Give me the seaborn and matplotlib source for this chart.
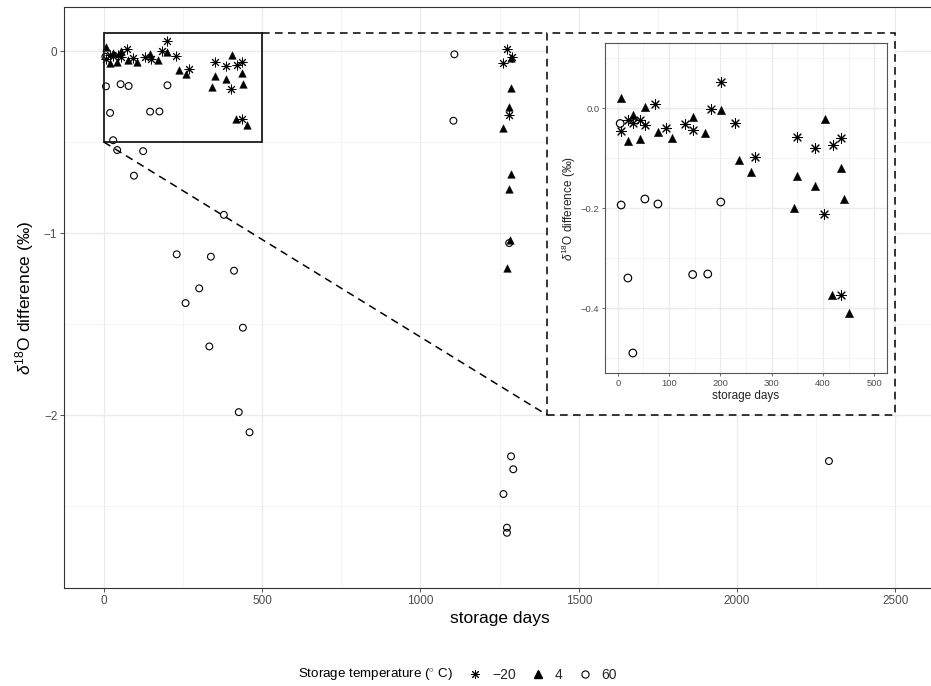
import matplotlib
matplotlib.use("Agg")
import matplotlib.pyplot as plt
import numpy as np
import pandas as pd
import seaborn as sns
from matplotlib.lines import Line2D
from matplotlib.patches import Rectangle

# ---------------- data ----------------
days_m20 = [5.9, 20.2, 28.7, 43.7, 53.5, 72.4, 93.2, 131, 147.3, 182.5, 200.8, 228.2,
            267.9, 349.4, 384.6, 402.9, 420.5, 436.1, 436.1, 1273, 1260, 1289, 1281]
diff_m20 = [-0.046, -0.023, -0.029, -0.023, -0.034, 0.009, -0.040, -0.031, -0.044, -0.001,
            0.053, -0.029, -0.097, -0.058, -0.080, -0.211, -0.074, -0.059, -0.373,
            0.009, -0.063, -0.035, -0.352]

days_p4 = [6.5, 19.6, 29, 43, 53.5, 77.6, 105.6, 146.7, 170.8, 200.8, 236.6, 259.5,
           342.9, 349.4, 385.3, 403.5, 435.5, 440.7, 417.9, 451.1,
           1286, 1285, 1281, 1262, 1285, 1280, 1284, 1274]
diff_p4 = [0.020, -0.066, -0.013, -0.062, 0.002, -0.048, -0.059, -0.017, -0.050, -0.003,
           -0.103, -0.127, -0.199, -0.136, -0.155, -0.021, -0.119, -0.182, -0.374, -0.409,
           -0.040, -0.205, -0.306, -0.425, -0.676, -0.760, -1.040, -1.190]

days_p60 = [4.6, 6.5, 19.6, 29.3, 52.8, 78.2, 146, 175.4, 200.8, 42, 124, 95,
            379, 230, 338, 411, 301, 258, 439, 333, 426, 460,
            1107, 1104, 1280, 1286, 1293, 1262, 1273, 1273, 2290]
diff_p60 = [-0.031, -0.194, -0.340, -0.490, -0.182, -0.192, -0.333, -0.332, -0.188,
            -0.544, -0.550, -0.685, -0.900, -1.117, -1.130, -1.207, -1.304, -1.385,
            -1.520, -1.623, -1.984, -2.095, -0.018, -0.383, -1.055, -2.227, -2.298,
            -2.434, -2.619, -2.647, -2.253]

temp_labels = ["\u221220", "4", "60"]

x_major = [0, 500, 1000, 1500, 2000, 2500]
x_minor = [250, 750, 1250, 1750, 2250]
y_major = [0, -1, -2]
y_minor = [-0.5, -1.5, -2.5]
y_ticklabels = ["0", "\u22121", "\u22122"]

ix_major = [0, 100, 200, 300, 400, 500]
ix_minor = [50, 150, 250, 350, 450]
iy_major = [0.0, -0.2, -0.4]
iy_minor = [0.1, -0.1, -0.3, -0.5]
iy_ticklabels = ["0.0", "\u22120.2", "\u22120.4"]

df = pd.concat([
    pd.DataFrame({"days": days_m20, "diff": diff_m20, "temp": temp_labels[0]}),
    pd.DataFrame({"days": days_p4, "diff": diff_p4, "temp": temp_labels[1]}),
    pd.DataFrame({"days": days_p60, "diff": diff_p60, "temp": temp_labels[2]}),
], ignore_index=True)

# ---------------- style ----------------
sns.set_theme(style="white")
plt.rcParams["font.family"] = ["Liberation Sans", "DejaVu Sans"]
plt.rcParams["mathtext.fontset"] = "custom"
plt.rcParams["mathtext.rm"] = "Liberation Sans"
plt.rcParams["mathtext.it"] = "Liberation Sans:italic"
plt.rcParams["mathtext.bf"] = "Liberation Sans:bold"

W, H = 931, 686
fig = plt.figure(figsize=(W / 100, H / 100), dpi=100)
fig.patch.set_facecolor("white")

ASTER = (8, 2, 0)
styles_main = {
    temp_labels[0]: dict(marker=ASTER, color="black", linewidth=0.7),
    temp_labels[1]: dict(marker="^", color="black", edgecolor="black", linewidth=0.3),
    temp_labels[2]: dict(marker="o", color="black", facecolor="none", edgecolor="black", linewidth=0.8),
}
styles_inset = {
    temp_labels[0]: dict(marker=ASTER, color="black", linewidth=0.75),
    temp_labels[1]: dict(marker="^", color="black", edgecolor="black", linewidth=0.3),
    temp_labels[2]: dict(marker="o", color="black", facecolor="none", edgecolor="black", linewidth=0.85),
}
sizes_main = {temp_labels[0]: 42, temp_labels[1]: 30, temp_labels[2]: 24}
sizes_inset = {temp_labels[0]: 50, temp_labels[1]: 36, temp_labels[2]: 30}

GRID_MAJ = "#EBEBEB"
GRID_MIN = "#F3F3F3"
TICKLAB = "#4D4D4D"
FRAME = "#333333"


def style_axes(a, xmaj, xmin, ymaj, ymin, ylabels, fs, frame_color, tick_len):
    a.set_xticks(xmaj)
    a.set_xticks(xmin, minor=True)
    a.set_yticks(ymaj)
    a.set_yticklabels(ylabels)
    a.set_yticks(ymin, minor=True)
    a.grid(which="major", color=GRID_MAJ, linewidth=1.0)
    a.grid(which="minor", color=GRID_MIN, linewidth=0.6)
    a.set_axisbelow(True)
    a.tick_params(which="major", length=tick_len, width=0.6, color=frame_color,
                  labelsize=fs, labelcolor=TICKLAB, pad=2)
    a.tick_params(which="minor", length=0)
    a.tick_params(bottom=True, left=True)
    for s in a.spines.values():
        s.set_color(frame_color)
        s.set_linewidth(0.8)


# ---------------- main axes ----------------
ax = fig.add_axes([64.3 / W, 1 - 588.3 / H, (935 - 64.3) / W, (588.3 - 7) / H])
for lvl in temp_labels:
    sub = df[df["temp"] == lvl]
    sns.scatterplot(data=sub, x="days", y="diff", s=sizes_main[lvl], ax=ax,
                    legend=False, zorder=3, **styles_main[lvl])
ax.set_xlim(-125, 2625)
ax.set_ylim(-2.952, 0.242)
style_axes(ax, x_major, x_minor, y_major, y_minor, y_ticklabels, 8.5, FRAME, 3)
ax.set_xlabel("storage days", fontsize=12.5, color="black", labelpad=3)
ax.set_ylabel(r"$\delta^{18}$O difference (‰)", fontsize=12.5, color="black", labelpad=6)

# zoom guides
dash = (0, (5, 3.5))
ax.add_patch(Rectangle((1400, -2), 1100, 2.1, facecolor="white", edgecolor="none", zorder=2.5))
ax.add_patch(Rectangle((1400, -2), 1100, 2.1, fill=False, edgecolor="black",
                       linewidth=1.1, linestyle=dash, zorder=4))
ax.add_patch(Rectangle((0, -0.5), 500, 0.6, fill=False, edgecolor="#1a1a1a",
                       linewidth=1.3, zorder=4))
ax.plot([500, 1400], [0.1, 0.1], color="black", lw=1.1, ls=dash, zorder=4)
ax.plot([0, 1400], [-0.5, -2], color="black", lw=1.1, ls=dash, zorder=4)

# ---------------- inset ----------------
axi = fig.add_axes([605 / W, 1 - 373 / H, (887 - 605) / W, (373 - 43) / H], zorder=5)
axi.set_facecolor("white")
for lvl in temp_labels:
    sub = df[df["temp"] == lvl]
    sns.scatterplot(data=sub, x="days", y="diff", s=sizes_inset[lvl], ax=axi,
                    legend=False, zorder=3, **styles_inset[lvl])
axi.set_xlim(-25, 525)
axi.set_ylim(-0.53, 0.13)
style_axes(axi, ix_major, ix_minor, iy_major, iy_minor, iy_ticklabels, 6.8, "#555555", 2)
axi.set_xlabel("storage days", fontsize=8.5, color="#222222", labelpad=1.5)
axi.set_ylabel(r"$\delta^{18}$O difference (‰)", fontsize=8.5, color="#222222", labelpad=2)

# ---------------- legend ----------------
fig.text(298 / W, 1 - 675 / H, r"Storage temperature $\mathit{(}^{\circ}$ C$\mathit{)}$",
         fontsize=9.6, va="center", ha="left", color="black")
handles = [
    Line2D([], [], marker=ASTER, ls="none", color="black", markersize=6.5, markeredgewidth=0.7),
    Line2D([], [], marker="^", ls="none", color="black", markersize=5.5),
    Line2D([], [], marker="o", ls="none", markerfacecolor="none", markeredgecolor="black",
           markersize=5.2, markeredgewidth=0.8),
]
fig.legend(handles, temp_labels, loc="center left", bbox_to_anchor=(467 / W, 1 - 675 / H),
           ncol=3, frameon=False, fontsize=10, handletextpad=0.6, columnspacing=1.0,
           handlelength=1.2, borderaxespad=0, borderpad=0)

fig.savefig("out.png", dpi=100, facecolor="white")
